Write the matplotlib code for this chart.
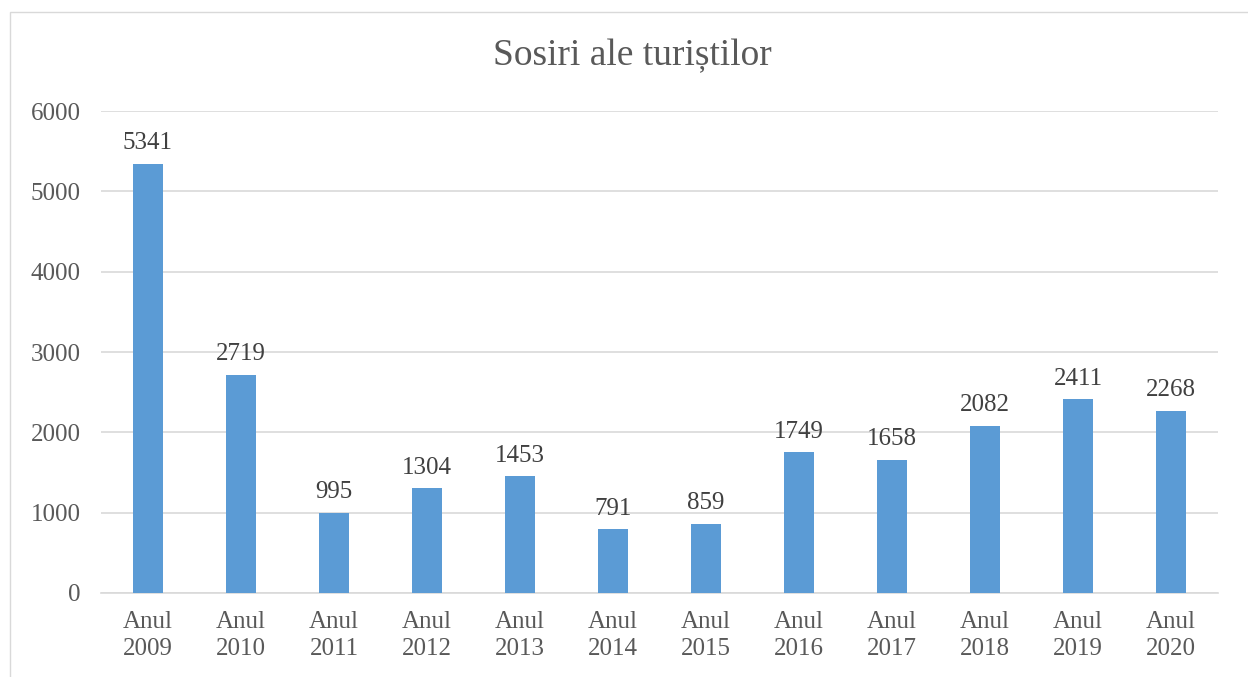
import matplotlib.pyplot as plt
from matplotlib.patches import Rectangle

years = ['2009', '2010', '2011', '2012', '2013', '2014', '2015', '2016', '2017', '2018', '2019', '2020']
arrivals = [5341, 2719, 995, 1304, 1453, 791, 859, 1749, 1658, 2082, 2411, 2268]
labels = ['Anul\n' + y for y in years]

plt.rcParams['font.family'] = ['Liberation Serif', 'DejaVu Serif']
txt = '#595959'

fig = plt.figure(figsize=(12.48, 6.77), dpi=100)
ax = fig.add_axes([0.0813, 0.1241, 0.8943, 0.7119])

x = range(len(years))
bars = ax.bar(x, arrivals, width=0.32, color='#5B9BD5', zorder=3)
for i, v in enumerate(arrivals):
    ax.annotate(str(v), (i, v), xytext=(0, 7), textcoords='offset points',
                ha='center', va='bottom', fontsize=18, color='#404040')

ax.set_xlim(-0.5, len(years) - 0.5)
ax.set_ylim(0, 6000)
ax.set_yticks(range(0, 6001, 1000))
ax.set_xticks(list(x))
ax.set_xticklabels(labels, fontsize=18, color=txt, linespacing=1.3)
ax.tick_params(axis='y', labelsize=18, labelcolor=txt, length=0, pad=15)
ax.tick_params(axis='x', length=0, pad=13)
ax.grid(axis='y', color='#D9D9D9', linewidth=1.2, zorder=0)
for s in ['top', 'right', 'left']:
    ax.spines[s].set_visible(False)
ax.spines['bottom'].set_color('#D9D9D9')
ax.spines['bottom'].set_linewidth(1.2)

fig.text(0.507, 0.918, 'Sosiri ale turiștilor', ha='center', va='center',
         fontsize=27, color=txt)

# chart frame
fig.patches.append(Rectangle((10 / 1248, -0.1), 1.2, 1 - 12 / 677 + 0.1,
                             transform=fig.transFigure, fill=False,
                             edgecolor='#D9D9D9', linewidth=1))

fig.savefig('out.png', dpi=100)
